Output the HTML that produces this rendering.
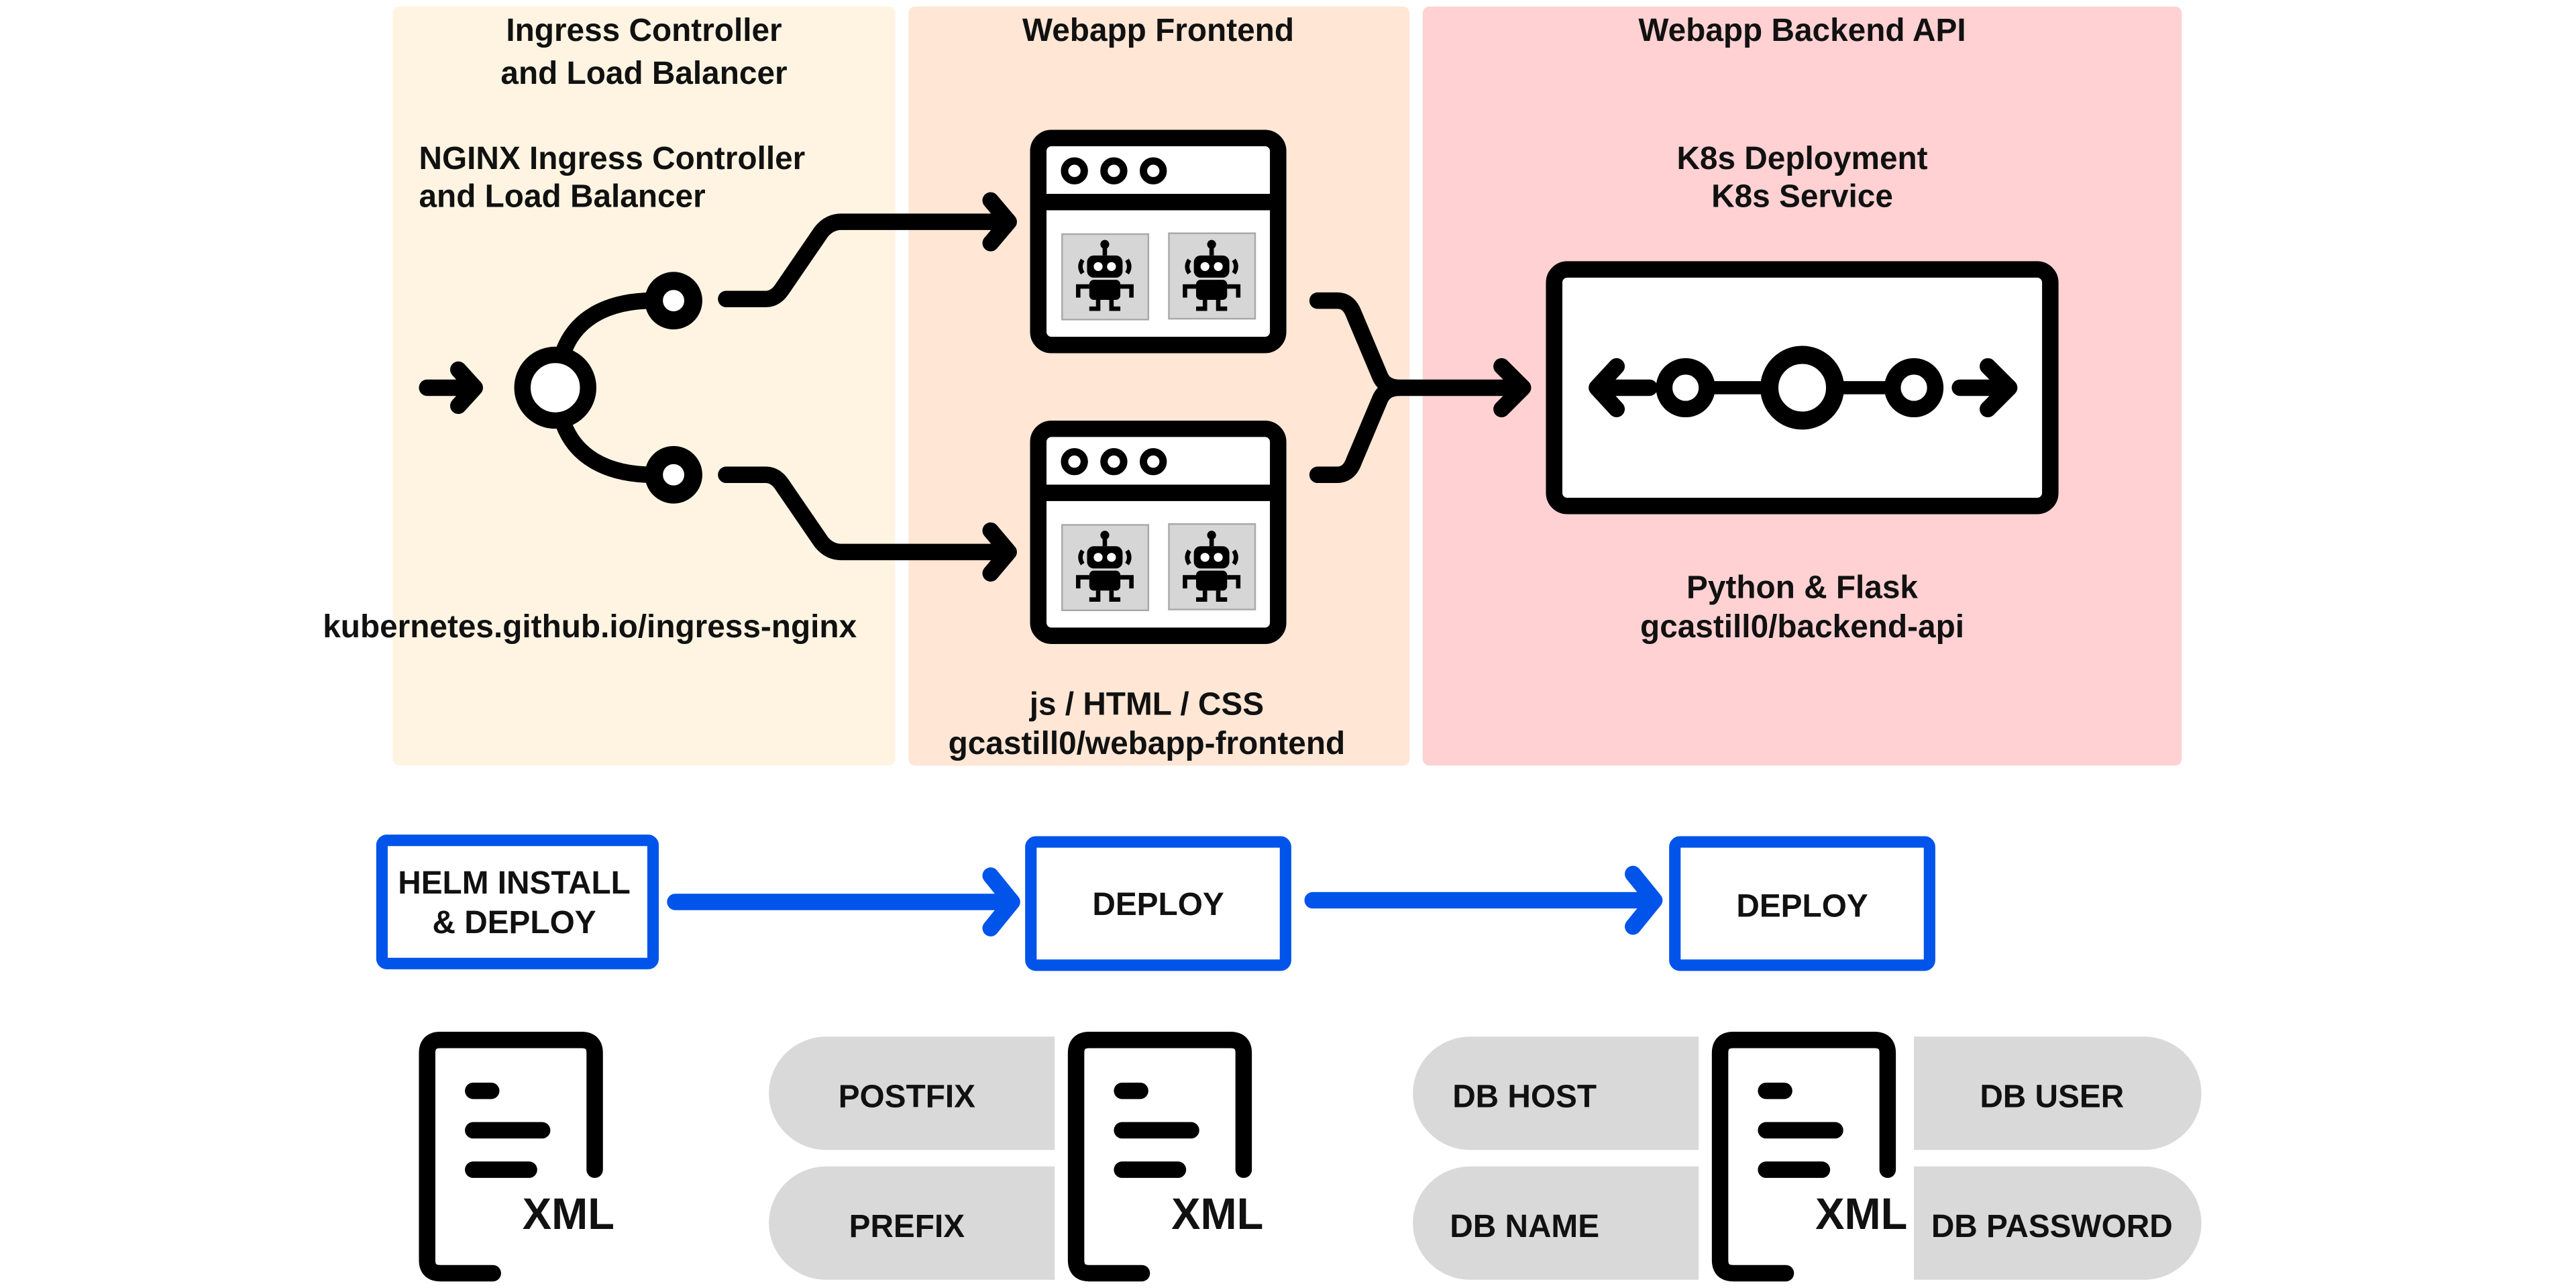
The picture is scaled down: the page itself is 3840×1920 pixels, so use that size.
<!DOCTYPE html>
<html><head><meta charset="utf-8"><style>
html,body{margin:0;padding:0;background:#fff;}
svg{display:block;}
text{font-family:"Liberation Sans",Arial,sans-serif;font-weight:bold;fill:#111;}
</style></head><body>
<svg width="3840" height="1920" viewBox="0 0 1568 784" xmlns="http://www.w3.org/2000/svg">
<defs>
<g id="robot0">
<line x1="0" y1="-15" x2="0" y2="-10" stroke="#000" stroke-width="2"/>
<circle cx="0" cy="-15" r="2" fill="#000"/>
<rect x="-8" y="-10" width="16" height="10" rx="3" fill="#000"/>
<circle cx="-3" cy="-5" r="2" fill="#fff"/><circle cx="3" cy="-5" r="2" fill="#fff"/>
<path d="M-10 -8 Q-12 -5 -10 -2 M10 -8 Q12 -5 10 -2" stroke="#000" stroke-width="2" fill="none"/>
<rect x="-7" y="1" width="14" height="9" rx="2" fill="#000"/>
<path d="M-7 4 H-12 V9 M7 4 H12 V9 M-3 10 V14 H-7 M3 10 V14 H7" stroke="#000" stroke-width="2" fill="none"/>
</g>
<g id="robot"><use href="#robot0" transform="scale(1.35)"/></g>
<g id="win">
<rect x="632" y="84" width="146" height="126" rx="8" fill="#fff" stroke="#000" stroke-width="10"/>
<rect x="632" y="118" width="146" height="10" fill="#000"/>
<circle cx="654" cy="104" r="6" fill="#fff" stroke="#000" stroke-width="4.5"/>
<circle cx="678" cy="104" r="6" fill="#fff" stroke="#000" stroke-width="4.5"/>
<circle cx="702" cy="104" r="6" fill="#fff" stroke="#000" stroke-width="4.5"/>
<rect x="646.5" y="142.5" width="52.5" height="52" fill="#d6d6d6" stroke="#a9a9a9" stroke-width="1"/>
<rect x="711.5" y="142" width="52.5" height="52" fill="#d6d6d6" stroke="#a9a9a9" stroke-width="1"/>
<g transform="translate(672.5,169)"><use href="#robot"/></g>
<g transform="translate(737.5,169)"><use href="#robot"/></g>
</g>
<g id="doc">
<path d="M362 712 V641 Q362 633 354 633 H268 Q260 633 260 641 V767 Q260 775 268 775 H300" fill="none" stroke="#000" stroke-width="10" stroke-linecap="round" stroke-linejoin="round"/>
<path d="M288 664 H299 M288 688 H330 M288 712 H322" stroke="#000" stroke-width="10" stroke-linecap="round"/>
</g>
</defs>

<rect x="239" y="4" width="306" height="462" rx="4" fill="#fff4e2"/>
<rect x="553" y="4" width="305" height="462" rx="4" fill="#ffe6d5"/>
<rect x="866" y="4" width="462" height="462" rx="4" fill="#ffd1d3"/>

<g font-size="19.5">
<text x="392" y="25" text-anchor="middle">Ingress Controller</text>
<text x="392" y="51" text-anchor="middle">and Load Balancer</text>
<text x="705" y="25" text-anchor="middle">Webapp Frontend</text>
<text x="1097" y="25" text-anchor="middle">Webapp Backend API</text>
<text x="255" y="103">NGINX Ingress Controller</text>
<text x="255" y="126">and Load Balancer</text>
<text x="359" y="388" text-anchor="middle">kubernetes.github.io/ingress-nginx</text>
<text x="698" y="435" text-anchor="middle">js / HTML / CSS</text>
<text x="698" y="459" text-anchor="middle">gcastill0/webapp-frontend</text>
<text x="1097" y="103" text-anchor="middle">K8s Deployment</text>
<text x="1097" y="126" text-anchor="middle">K8s Service</text>
<text x="1097" y="364" text-anchor="middle">Python &amp; Flask</text>
<text x="1097" y="388" text-anchor="middle">gcastill0/backend-api</text>
</g>

<g fill="none" stroke="#000" stroke-width="10" stroke-linecap="round" stroke-linejoin="round">
<path d="M260 236 H282 M279 225 L289 236 L279 247"/>
<path d="M343 214 C350 195 368 183 398 183"/>
<path d="M343 258 C350 277 368 289 398 289"/>
<path d="M442 182 H466 Q472 182 476 176 L500 141 Q505 135 512 135 H609 M603 122 L614 135 L603 148"/>
<path d="M442 289 H466 Q472 289 476 295 L500 330 Q505 336 512 336 H609 M603 323 L614 336 L603 349"/>
<path d="M802 183 H814 Q821 183 824 191 L840 229 Q843 236 852 236 M802 289 H814 Q821 289 824 281 L840 243 Q843 236 852 236 H922 M914 223 L927 236 L914 249"/>
</g>
<circle cx="338" cy="236" r="20" fill="#fff" stroke="#000" stroke-width="10"/>
<circle cx="410" cy="183" r="12" fill="#fff" stroke="#000" stroke-width="11"/>
<circle cx="410" cy="289" r="12" fill="#fff" stroke="#000" stroke-width="11"/>

<use href="#win"/>
<use href="#win" y="177"/>

<rect x="946" y="164" width="302" height="144" rx="8" fill="#fff" stroke="#000" stroke-width="10"/>
<g fill="none" stroke="#000" stroke-linecap="round" stroke-linejoin="round">
<path d="M1004 236 H975 M984 223 L972 236 L984 249" stroke-width="10"/>
<path d="M1193 236 H1222 M1210 223 L1223 236 L1210 249" stroke-width="10"/>
<path d="M1040 236 H1150" stroke-width="8"/>
</g>
<circle cx="1026" cy="236" r="13" fill="#fff" stroke="#000" stroke-width="10"/>
<circle cx="1165" cy="236" r="13" fill="#fff" stroke="#000" stroke-width="10"/>
<circle cx="1097" cy="236" r="20" fill="#fff" stroke="#000" stroke-width="11"/>

<g fill="none" stroke="#0054ea">
<rect x="232.5" y="511.5" width="165" height="75" rx="3" stroke-width="7"/>
<rect x="627.5" y="512.5" width="155" height="75" rx="3" stroke-width="7"/>
<rect x="1019.5" y="512.5" width="155" height="75" rx="3" stroke-width="7"/>
<g stroke-width="10" stroke-linecap="round" stroke-linejoin="round">
<path d="M411 549 H610 M603 533 L616 549 L603 565"/>
<path d="M799 548 H1000 M994 532 L1007 548 L994 564"/>
</g>
</g>
<g font-size="19.5">
<text x="313" y="544" text-anchor="middle">HELM INSTALL</text>
<text x="313" y="568" text-anchor="middle">&amp; DEPLOY</text>
<text x="705" y="557" text-anchor="middle">DEPLOY</text>
<text x="1097" y="558" text-anchor="middle">DEPLOY</text>
</g>

<g fill="#d9d9d9">
<path d="M642 631 V700 H503 A35 34.5 0 0 1 503 631 Z"/>
<path d="M642 710 V779 H503 A35 34.5 0 0 1 503 710 Z"/>
<path d="M1034 631 V700 H895 A35 34.5 0 0 1 895 631 Z"/>
<path d="M1034 710 V779 H895 A35 34.5 0 0 1 895 710 Z"/>
<path d="M1165 631 V700 H1305 A35 34.5 0 0 0 1305 631 Z"/>
<path d="M1165 710 V779 H1305 A35 34.5 0 0 0 1305 710 Z"/>
</g>
<g font-size="19.5">
<text x="552" y="674" text-anchor="middle">POSTFIX</text>
<text x="552" y="753" text-anchor="middle">PREFIX</text>
<text x="928" y="674" text-anchor="middle">DB HOST</text>
<text x="928" y="753" text-anchor="middle">DB NAME</text>
<text x="1249" y="674" text-anchor="middle">DB USER</text>
<text x="1249" y="753" text-anchor="middle">DB PASSWORD</text>
</g>

<use href="#doc"/>
<use href="#doc" x="395"/>
<use href="#doc" x="787"/>
<text x="318" y="748" font-size="27" textLength="56" lengthAdjust="spacingAndGlyphs">XML</text>
<text x="713" y="748" font-size="27" textLength="56" lengthAdjust="spacingAndGlyphs">XML</text>
<text x="1105" y="748" font-size="27" textLength="56" lengthAdjust="spacingAndGlyphs">XML</text>
</svg>
</body></html>
